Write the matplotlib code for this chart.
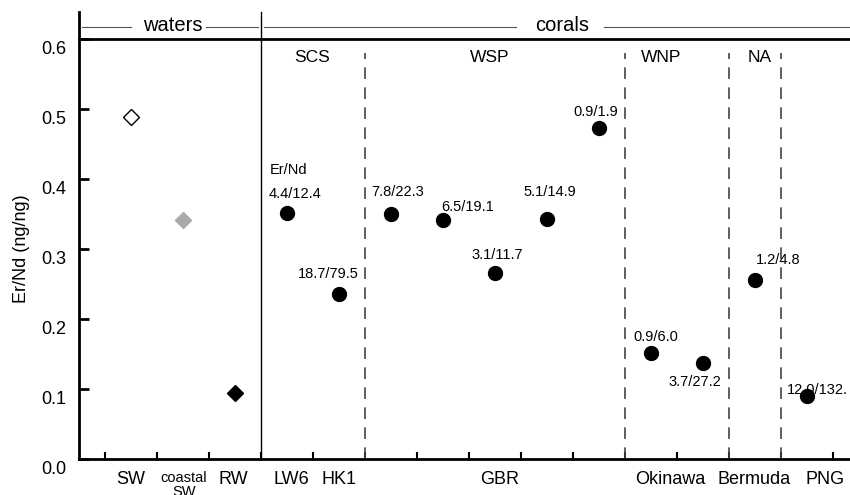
import numpy as np
import matplotlib.pyplot as plt
import matplotlib.transforms as mtransforms

plt.rcParams['font.family'] = ['Liberation Sans', 'DejaVu Sans']

# waters
water_x = [1, 2, 3]
water_y = [0.489, 0.341, 0.094]
water_face = ['white', '#aaaaaa', 'black']
water_edge = ['black', '#aaaaaa', 'black']

# corals
coral_x = [4, 5, 6, 7, 8, 9, 10, 11, 12, 13, 14]
coral_y = [0.351, 0.236, 0.350, 0.341, 0.266, 0.343, 0.473, 0.151, 0.137, 0.256, 0.090]
coral_lab = ['4.4/12.4', '18.7/79.5', '7.8/22.3', '6.5/19.1', '3.1/11.7', '5.1/14.9',
             '0.9/1.9', '0.9/6.0', '3.7/27.2', '1.2/4.8', '12.0/132.']
# label positions (x, y, ha)
lab_pos = [(4.15, 0.379, 'center'), (4.79, 0.264, 'center'), (6.12, 0.381, 'center'),
           (7.48, 0.360, 'center'), (8.04, 0.291, 'center'), (9.06, 0.381, 'center'),
           (9.94, 0.496, 'center'), (11.1, 0.174, 'center'), (11.85, 0.110, 'center'),
           (13.44, 0.284, 'center'), (13.62, 0.099, 'left')]

site_lab = ['SW', 'RW', 'LW6', 'HK1', 'GBR', 'Okinawa', 'Bermuda', 'PNG']
site_x = [1, 2.96, 4.08, 5, 8.1, 11.38, 12.98, 14.35]

regions = ['SCS', 'WSP', 'WNP', 'NA']
region_x = [4.48, 7.9, 11.2, 13.1]
dash_x = [5.5, 10.5, 12.5, 13.5]

fig = plt.figure(figsize=(8.5, 4.95), dpi=100)
ax = fig.add_axes([79/850, 36/495, 1 - 79/850, 420/495])

for x, y, fc, ec in zip(water_x, water_y, water_face, water_edge):
    ax.plot(x, y, 'D', ms=8.5, mfc=fc, mec=ec, mew=1)
ax.plot(coral_x, coral_y, 'o', color='black', ms=10)
for t, (x, y, ha) in zip(coral_lab, lab_pos):
    ax.text(x, y, t, ha=ha, va='center', fontsize=10.5, clip_on=False)
ax.text(3.67, 0.413, 'Er/Nd', ha='left', va='center', fontsize=10.5)

ax.set_xlim(0, 14.83)
ax.set_ylim(0, 0.6)

# separators
ax.plot([3.5, 3.5], [0, 0.639], color='black', lw=1, clip_on=False)
for x in dash_x:
    ax.plot([x, x], [0, 0.58], color='#444444', lw=1.2, ls=(0, (7, 5)))
for t, x in zip(regions, region_x):
    ax.text(x, 0.573, t, ha='center', va='center', fontsize=12.5)

# header
ax.plot([0, 0], [0.6, 0.639], color='black', lw=2, clip_on=False)
ax.plot([0.06, 1.0], [0.617, 0.617], color='#555555', lw=0.8, clip_on=False)
ax.plot([2.45, 3.45], [0.617, 0.617], color='#555555', lw=0.8, clip_on=False)
ax.text(1.8, 0.619, 'waters', ha='center', va='center', fontsize=14.5, clip_on=False)
ax.plot([3.55, 8.4], [0.617, 0.617], color='#555555', lw=0.8, clip_on=False)
ax.plot([10.1, 14.83], [0.617, 0.617], color='#555555', lw=0.8, clip_on=False)
ax.text(9.3, 0.619, 'corals', ha='center', va='center', fontsize=14.5, clip_on=False)

# axes styling
ax.spines['right'].set_visible(False)
for s in ['left', 'bottom', 'top']:
    ax.spines[s].set_linewidth(2)
ax.set_yticks(np.arange(0, 0.61, 0.1))
ax.set_yticklabels(['0.0', '0.1', '0.2', '0.3', '0.4', '0.5', '0.6'], fontsize=13)
ax.tick_params(axis='y', direction='in', length=7, width=2, pad=9)
offset = mtransforms.ScaledTranslation(0, -8/100, fig.dpi_scale_trans)
for lbl in ax.get_yticklabels():
    lbl.set_transform(lbl.get_transform() + offset)
ax.set_xticks(np.arange(0.5, 15, 1))
ax.set_xticklabels([])
ax.tick_params(axis='x', direction='in', length=5, width=1.5)
ax.tick_params(top=False)

for t, x in zip(site_lab, site_x):
    ax.text(x, -0.029, t, ha='center', va='center', fontsize=13, clip_on=False)
ax.text(2.02, -0.037, 'coastal\nSW', ha='center', va='center', fontsize=10.5,
        linespacing=1.0, clip_on=False)

ax.set_ylabel('Er/Nd (ng/ng)', fontsize=13, labelpad=8)

fig.savefig('out.png', dpi=100)
